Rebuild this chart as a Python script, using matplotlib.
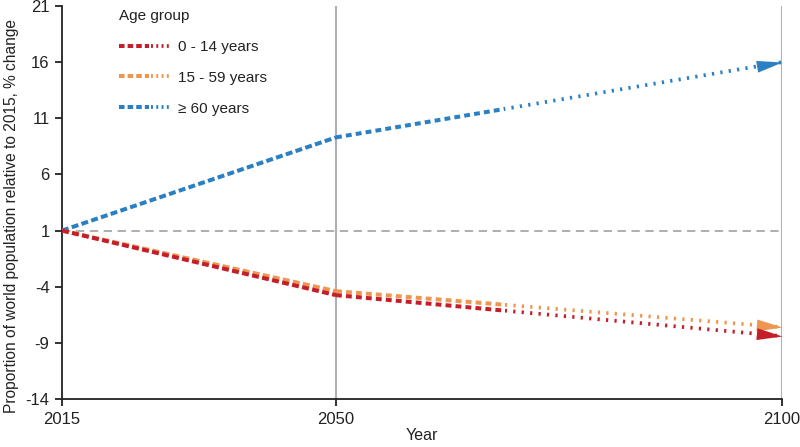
import numpy as np
import matplotlib
matplotlib.use("Agg")
import matplotlib.pyplot as plt
from matplotlib.lines import Line2D
from matplotlib.legend_handler import HandlerBase
from matplotlib.markers import MarkerStyle
from matplotlib.patches import Rectangle
from matplotlib.path import Path
import matplotlib.transforms as mtransforms

plt.rcParams['font.family'] = ['Liberation Sans', 'DejaVu Sans']
plt.rcParams['lines.scale_dashes'] = False

years = [2015, 2050, 2100]
groups = ["0 - 14 years", "15 - 59 years", "\u2265 60 years"]
values = {
    "0 - 14 years": [1, -4.75, -8.4],
    "15 - 59 years": [1, -4.4, -7.6],
    "\u2265 60 years": [1, 9.3, 16.0],
}
colors = {
    "0 - 14 years": "#C41E2A",
    "15 - 59 years": "#EE9550",
    "\u2265 60 years": "#2A80C2",
}
draw_order = ["\u2265 60 years", "15 - 59 years", "0 - 14 years"]
yticks = [-14, -9, -4, 1, 6, 11, 16, 21]
xticks = [2015, 2050, 2100]
dot_start = 2069  # where dashes turn to dots

# piecewise-linear x scale (2015-2050 slightly compressed as in the reference)
K1, K2 = 7.83, 8.92
def fwd(x):
    x = np.asarray(x, dtype=float)
    return np.where(x <= 2050, (x - 2015) * K1, 35 * K1 + (x - 2050) * K2)
def inv(p):
    p = np.asarray(p, dtype=float)
    return np.where(p <= 35 * K1, 2015 + p / K1, 2050 + (p - 35 * K1) / K2)

W, H = 800, 447
fig = plt.figure(figsize=(W / 100, H / 100), dpi=100)
ax = fig.add_axes([62 / W, 1 - 399 / H, (782 - 62) / W, (399 - 6) / H])
ax.set_xscale('function', functions=(fwd, inv))
ax.set_xlim(2015, 2100)
ax.set_ylim(-14, 21)

# reference lines
ax.axhline(1, color='#A8A8A8', lw=1.3, dashes=(6, 4), zorder=1)
ax.axvline(2050, color='#B0B0B0', lw=1.5, zorder=1)
ax.axvline(2100, color='#B0B0B0', lw=1.5, zorder=1)

fig.canvas.draw()
for g in draw_order:
    v = values[g]
    c = colors[g]
    ax.plot(years[:2], v[:2], color=c, lw=2.9, dashes=(5, 2.4),
            solid_capstyle='butt', dash_capstyle='butt', zorder=3)
    l1, = ax.plot(years[1:], v[1:], color=c, lw=2.9, dashes=(4.2, 3.0),
                  dash_capstyle='butt', zorder=3)
    r1 = Rectangle((2015, -14), dot_start - 2015, 35, transform=ax.transData)
    l1.set_clip_path(r1)
    l2, = ax.plot(years[1:], v[1:], color=c, lw=2.7, dashes=(1.6, 4.5),
                  dash_capstyle='butt', zorder=3)
    r2 = Rectangle((dot_start, -14), 2100 - dot_start, 35, transform=ax.transData)
    l2.set_clip_path(r2)
    # arrowhead rotated along final segment
    p0 = ax.transData.transform((years[1], v[1]))
    p1 = ax.transData.transform((years[2], v[2]))
    ang = np.degrees(np.arctan2(p1[1] - p0[1], p1[0] - p0[0]))
    verts = [(0, 0), (-2.6, 0.6), (-2.6, -0.6), (0, 0)]
    path = Path(verts, [Path.MOVETO, Path.LINETO, Path.LINETO, Path.CLOSEPOLY])
    ms = MarkerStyle(path, transform=mtransforms.Affine2D().rotate_deg(ang))
    ax.plot([years[2]], [v[2]], marker=ms, markersize=37, color=c,
            markeredgewidth=0, linestyle='none', zorder=4, clip_on=False)

for s in ['top', 'right']:
    ax.spines[s].set_visible(False)
for s in ['left', 'bottom']:
    ax.spines[s].set_linewidth(1.3)
    ax.spines[s].set_color('#222222')

ax.set_xticks(xticks)
ax.set_xticklabels([str(t) for t in xticks])
ax.set_yticks(yticks)
ax.set_yticklabels([str(t) for t in yticks])
ax.tick_params(axis='both', direction='out', length=5, width=1.3,
               labelsize=12, colors='#222222', pad=4)
ax.minorticks_off()
ax.set_xlabel("Year", fontsize=11.5, color='#222222', labelpad=1)
ax.set_ylabel("Proportion of world population relative to 2015, % change",
              fontsize=11.2, color='#222222')
ax.yaxis.set_label_coords(-0.060, 0.465)


class DashDotHandler(HandlerBase):
    def create_artists(self, legend, orig_handle, xdescent, ydescent,
                       width, height, fontsize, trans):
        c = orig_handle.get_color()
        y = height / 2 - ydescent
        a = Line2D([-xdescent, -xdescent + width * 0.6], [y, y], color=c,
                   lw=2.9, dashes=(4.0, 2.2), dash_capstyle='butt')
        b = Line2D([-xdescent + width * 0.63, -xdescent + width], [y, y],
                   color=c, lw=2.7, dashes=(1.4, 2.4), dash_capstyle='butt')
        a.set_transform(trans)
        b.set_transform(trans)
        return [a, b]

handles = [Line2D([], [], color=colors[g]) for g in groups]
leg = ax.legend(handles, groups, title="Age group", loc='upper left',
                bbox_to_anchor=(0.06, 1.027), frameon=False, fontsize=11,
                title_fontsize=11, handlelength=3.3, handletextpad=0.55,
                labelspacing=1.1, alignment='left',
                handler_map={Line2D: DashDotHandler()})
for t in leg.get_texts():
    t.set_color('#222222')
leg.get_title().set_color('#222222')

fig.savefig("out.png", dpi=100)
